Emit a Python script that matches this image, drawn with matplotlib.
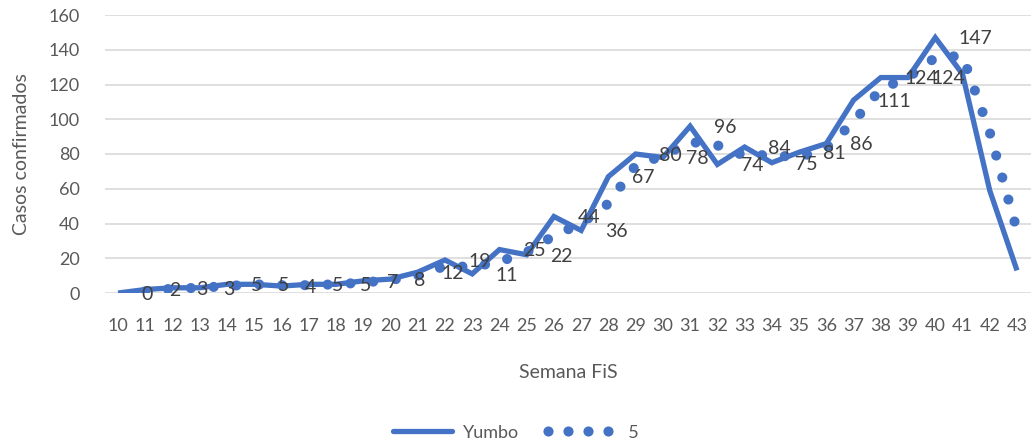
import matplotlib
matplotlib.use("Agg")
import matplotlib.pyplot as plt
from matplotlib.lines import Line2D

weeks = list(range(10, 44))
yumbo = [0, 2, 3, 3, 5, 5, 4, 5, 5, 7, 8, 12, 19, 11, 25, 22, 44, 36, 67, 80,
         78, 96, 74, 84, 75, 81, 86, 111, 124, 124, 147, 126, 59, 13]
avg_weeks = list(range(11, 44))
avg5 = [1, 2.5, 3, 4, 5, 4.5, 4.5, 5, 6, 7.5, 10, 15.5, 15, 18, 23.5, 33, 40,
        51.5, 73.5, 79, 87, 85, 79, 79.5, 78, 83.5, 98.5, 117.5, 124, 135.5,
        136.5, 92.5, 36]
n_labeled = 31  # data labels shown for weeks 10..40

plt.rcParams['font.family'] = ['Lato', 'DejaVu Sans']
blue = '#4472C4'
gray = '#595959'

fig = plt.figure(figsize=(10.32, 4.46), dpi=100)
ax = fig.add_axes([104.5 / 1032, 153 / 446, 926.1 / 1032, 278 / 446])

xpos = list(range(len(weeks)))
idx = {w: i for i, w in enumerate(weeks)}
apos = [idx[w] for w in avg_weeks]

ax.plot(xpos, yumbo, color=blue, lw=3.8, solid_joinstyle='miter',
        solid_capstyle='butt', zorder=3)
ax.plot(apos, avg5, color=blue, lw=7.3, linestyle=(0, (0.001, 2.25)),
        dash_capstyle='round', zorder=4)

for i in range(n_labeled):
    ax.annotate(str(yumbo[i]), (xpos[i], yumbo[i]), xytext=(17, -1),
                textcoords='offset points', ha='left', va='center',
                fontsize=14, color='#404040', zorder=5)

ax.set_xlim(-0.5, len(weeks) - 0.5)
ax.set_ylim(0, 160)
ax.set_yticks(range(0, 161, 20))
ax.set_xticks(xpos)
ax.set_xticklabels([str(w) for w in weeks])
ax.grid(axis='y', color='#d9d9d9', lw=1.2)
ax.set_axisbelow(True)
for s in ax.spines.values():
    s.set_visible(False)
ax.tick_params(axis='both', length=0, labelsize=13, labelcolor=gray)
ax.tick_params(axis='y', pad=18)
ax.tick_params(axis='x', pad=18)

ax.set_xlabel('Semana FiS', fontsize=14, color=gray)
ax.xaxis.set_label_coords(0.5005, -0.255)
ax.set_ylabel('Casos confirmados', fontsize=14, color=gray)
ax.yaxis.set_label_coords(-0.0805, 0.5)

h1 = Line2D([], [], color=blue, lw=3.8, solid_capstyle='round')
h2 = Line2D([], [], color=blue, ls='none', marker='o', markersize=7.3,
            markeredgewidth=0)
leg = fig.legend([h1, h2], ['Yumbo', '  5'], loc='center',
                 bbox_to_anchor=(0.497, 0.03), ncol=2, numpoints=4,
                 frameon=False, fontsize=13, handlelength=3.9,
                 columnspacing=1.3, handletextpad=0.3)
for t in leg.get_texts():
    t.set_color(gray)

fig.savefig('out.png', dpi=100)
